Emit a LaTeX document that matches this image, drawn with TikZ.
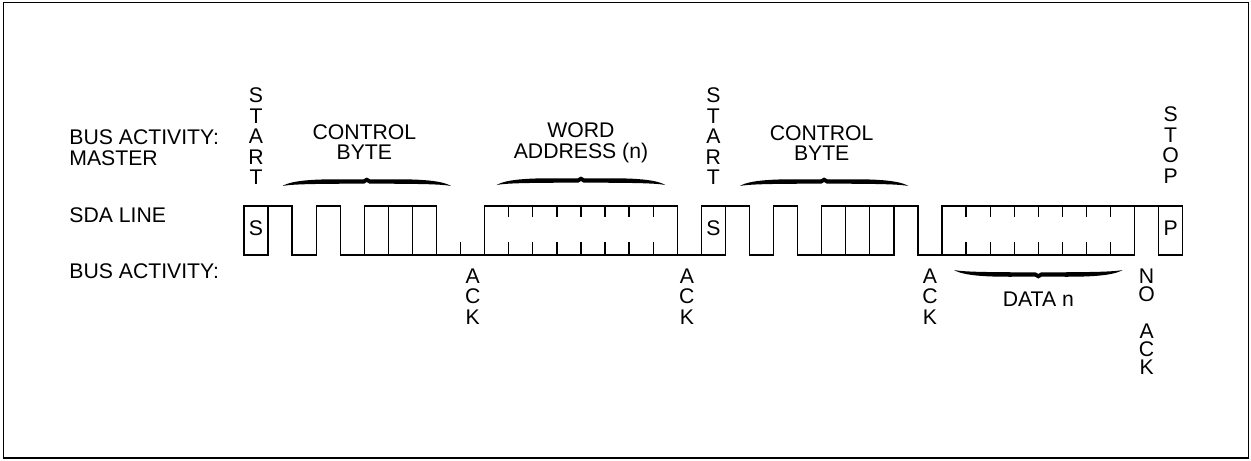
\documentclass[tikz,border=0pt]{standalone}
\usepackage{fontspec}
\setmainfont{Liberation Sans}
\tikzset{
  sda/.style={line width=0.65pt},
  lbl/.style={inner sep=0pt, font=\fontsize{10.6}{10.25}\selectfont},
  stack/.style={lbl, align=center},
}
%% tapered brace: centre bit, end y, 1 = tip up, -1 = tip down
\newcommand{\wavebrace}[3]{%
  \fill[shift={(#1,#2)}, yscale=#3]
    (-3.5,0) .. controls (-3,-7.5) and (-1.5,-7) .. (-0.15,-6.5) -- (0,-8.5)
    -- (0.15,-6.5) .. controls (1.5,-7) and (3,-7.5) .. (3.5,0)
    .. controls (3,-2.5) and (1.5,-2) .. (0.1,-2.5) -- (0,-4)
    -- (-0.1,-2.5) .. controls (-1.5,-2) and (-3,-2.5) .. (-3.5,0) -- cycle;}
\begin{document}
\begin{tikzpicture}[x=0.5pt, y=-0.5pt]
    \useasboundingbox (0,0) rectangle (1251,460);
    %% outer frame
    \draw[line width=0.85pt] (3.5,2.5) rectangle (1248.5,458);
    %% row titles
    \node[stack, align=left, anchor=north west] (busm) at (69,129.3) {BUS ACTIVITY:\\MASTER};
    \node[lbl, anchor=north west] (sdal) at (69,207.7) {SDA LINE};
    \node[lbl, anchor=north west] (busa) at (69,263.3) {BUS ACTIVITY:};
    %% one x unit = one bit time
    \begin{scope}[shift={(244,0)}, x=12.035pt]
        \def\hi{206} \def\lo{255}
        %% start and control byte
        \draw[sda] (0,\lo) rectangle (1,\hi);
        \draw[sda] (1,\hi) -| (2,\lo) -| (3,\hi) -| (4,\lo) -- (10,\lo);
        \foreach \k in {5,6,7}
            \draw[sda] (\k,\lo) rectangle (\k+1,\hi);
        \draw[sda] (9,\lo) -- (9,\lo-13);
        %% word address
        \draw[sda] (10,\lo) rectangle (18,\hi);
        \foreach \k in {11,...,17} {
            \draw[sda] (\k,\hi) -- (\k,\hi+11);
            \draw[sda] (\k,\lo) -- (\k,\lo-13);
        }
        \draw[sda] (18,\lo) -- (19,\lo);
        %% start again and control byte
        \draw[sda] (19,\lo) rectangle (20,\hi);
        \draw[sda] (20,\hi) -| (21,\lo) -| (22,\hi) -| (23,\lo) -- (24,\lo);
        \foreach \k in {24,25,26}
            \draw[sda] (\k,\lo) rectangle (\k+1,\hi);
        \draw[sda] (27,\hi) -| (28,\lo) -- (29,\lo);
        %% data and stop
        \draw[sda] (29,\lo) rectangle (37,\hi);
        \foreach \k in {30,...,36} {
            \draw[sda] (\k,\hi) -- (\k,\hi+11);
            \draw[sda] (\k,\lo) -- (\k,\lo-13);
        }
        \draw[sda] (37,\hi) -- (38,\hi);
        \draw[sda] (38,\lo) rectangle (39,\hi);
        %% bit letters
        \node[lbl] (s1) at (0.5,228.5) {S};
        \node[lbl] (s2) at (19.5,228.5) {S};
        \node[lbl] (p) at (38.5,228.5) {P};
        %% master activity
        \node[stack, anchor=south] (start1) at (0.5,185) {S\\T\\A\\R\\T};
        \node[stack, anchor=south] (start2) at (19.5,185) {S\\T\\A\\R\\T};
        \node[stack, anchor=south] (stop) at (38.5,183.5) {S\\T\\O\\P};
        \node[stack, anchor=north] (ctrl1) at (5,124) {CONTROL\\BYTE};
        \node[stack, anchor=north] (word) at (14,122.5) {WORD\\ADDRESS (n)};
        \node[stack, anchor=north] (ctrl2) at (24,125) {CONTROL\\BYTE};
        \wavebrace{5.1}{186}{1}
        \wavebrace{14}{185}{1}
        \wavebrace{24.1}{186}{1}
        %% slave activity
        \node[stack, anchor=north] (ack1) at (9.5,268.5) {A\\C\\K};
        \node[stack, anchor=north] (ack2) at (18.4,268.5) {A\\C\\K};
        \node[stack, anchor=north] (ack3) at (28.5,268.5) {A\\C\\K};
        \node[stack, anchor=north, font=\fontsize{10.6}{9.15}\selectfont] (noack) at (37.5,268.5) {N\\O\\[9.15pt]A\\C\\K};
        \node[lbl, anchor=north] (data) at (33,291.7) {DATA n};
        \wavebrace{33}{270}{-1}
    \end{scope}
\end{tikzpicture}
\end{document}
